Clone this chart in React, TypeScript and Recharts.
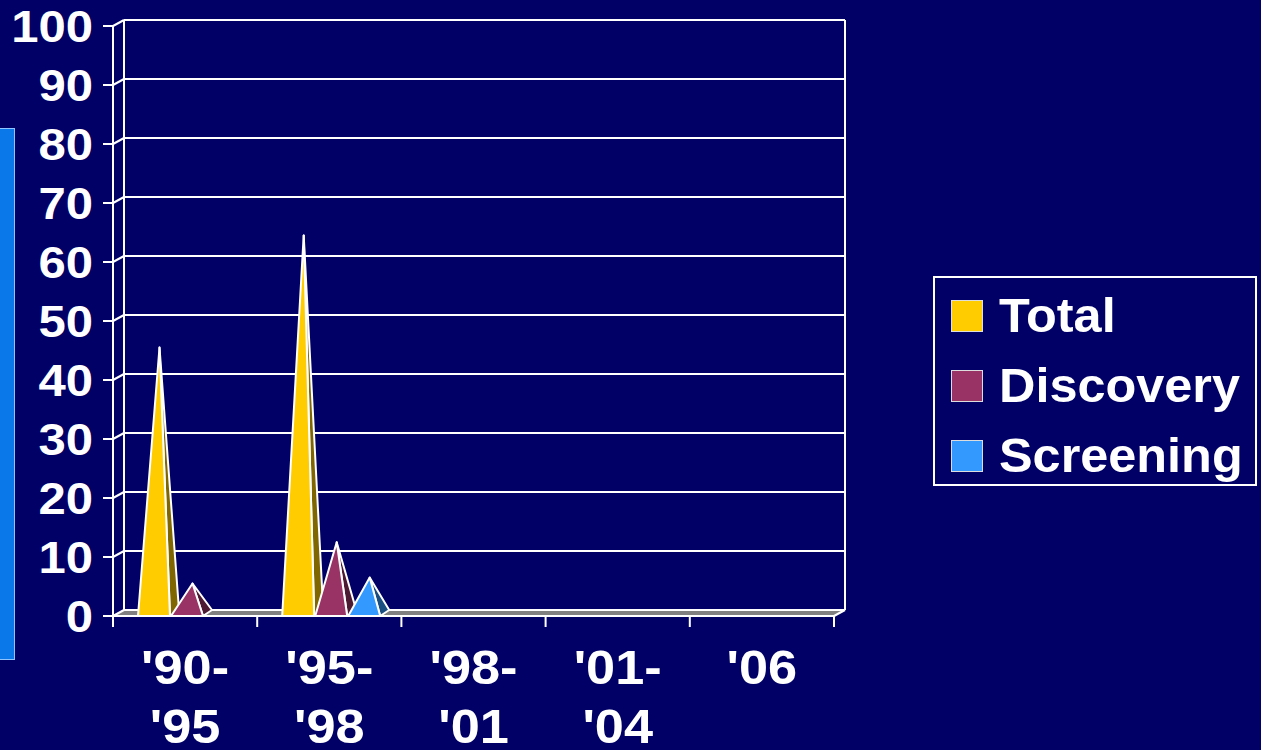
import { BarChart, Bar, XAxis, YAxis, CartesianGrid } from 'recharts';

// Periods and counts per period
const periods = ["'90-'95", "'95-'98", "'98-'01", "'01-'04", "'06"];
const totalCounts = [45, 64, 0, 0, 0];
const discoveryCounts = [5, 12, 0, 0, 0];
const screeningCounts = [0, 6, 0, 0, 0];
const yTicks = [0, 10, 20, 30, 40, 50, 60, 70, 80, 90, 100];

const seriesList = [
  { key: 'total', name: 'Total', fill: '#FFCC00', side: '#7F6600' },
  { key: 'discovery', name: 'Discovery', fill: '#993366', side: '#4D1A33' },
  { key: 'screening', name: 'Screening', fill: '#3399FF', side: '#1A4D80' },
];

const data = periods.map((period, i) => ({
  period,
  total: totalCounts[i],
  discovery: discoveryCounts[i],
  screening: screeningCounts[i],
}));

const W = 1261;
const H = 750;
const BG = '#000066';
const FONT = '"Liberation Sans", Arial, Helvetica, sans-serif';
const STRETCH = 1.09; // axis labels are a bit wider than plain Arial
const LEGEND_STRETCH = 1.05;

// back wall of the 3D box
const PLOT_LEFT = 124;
const PLOT_TOP = 20;
const PLOT_RIGHT = 845;
const PLOT_BOTTOM = 610;
// depth offset of the front plane
const DX = 11;
const DY = 6;
const BAND = (PLOT_RIGHT - PLOT_LEFT) / periods.length;
const STEP = (PLOT_BOTTOM - PLOT_TOP) / (yTicks.length - 1);

const Pyramid = (props: any) => {
  const { x, y, width, height, fill, side } = props;
  if (!height || height < 0.5) return null;
  const fl = x - DX + 2;
  const fr = x + width - DX + 2;
  const baseY = y + height + DY;
  const ax = x + width / 2 - DX / 2 + 2;
  const ay = y + DY / 2;
  return (
    <g stroke="#fff" strokeWidth={2} strokeLinejoin="round">
      <path d={`M${fr},${baseY} L${x + width},${y + height} L${ax},${ay} Z`} fill={side} />
      <path d={`M${fl},${baseY} L${fr},${baseY} L${ax},${ay} Z`} fill={fill} />
    </g>
  );
};

const GridLine = (props: any) => {
  const { x1, x2, y1 } = props;
  if (Math.abs(y1 - PLOT_BOTTOM) < 0.5) {
    const fy = PLOT_BOTTOM + DY;
    return (
      <g>
        <polygon
          points={`${x1 - DX},${fy} ${x2 - DX},${fy} ${x2},${y1} ${x1},${y1}`}
          fill="#808080"
        />
        <line x1={x1} x2={x2} y1={y1} y2={y1} stroke="#fff" strokeWidth={2} />
        <line x1={x1 - DX} x2={x2 - DX} y1={fy} y2={fy} stroke="#fff" strokeWidth={2} />
        <line x1={x2 - DX} x2={x2} y1={fy} y2={y1} stroke="#fff" strokeWidth={2} />
      </g>
    );
  }
  return <line x1={x1} x2={x2} y1={y1} y2={y1} stroke="#fff" strokeWidth={2} />;
};

const YTick = (props: any) => {
  const { y, payload } = props;
  const fx = PLOT_LEFT - DX;
  const fy = y + DY;
  return (
    <g stroke="#fff" strokeWidth={2}>
      <line x1={fx - 10} x2={fx} y1={fy} y2={fy} />
      <line x1={fx} x2={PLOT_LEFT} y1={fy} y2={y} />
      {payload.value > 0 && <line x1={fx} x2={fx} y1={fy} y2={fy + STEP} />}
      <text
        transform={`translate(93,${fy}) scale(${STRETCH},1)`}
        dy="0.36em"
        textAnchor="end"
        fill="#fff"
        stroke="none"
        fontFamily={FONT}
        fontWeight="bold"
        fontSize={45}
      >
        {payload.value}
      </text>
    </g>
  );
};

const XTick = (props: any) => {
  const { x, payload, index } = props;
  const left = x - BAND / 2 - DX;
  const right = x + BAND / 2 - DX;
  const fy = PLOT_BOTTOM + DY;
  const lines: string[] = String(payload.value).match(/'\d+-?/g) || [];
  return (
    <g>
      <line x1={left} x2={left} y1={fy} y2={fy + 11} stroke="#fff" strokeWidth={2} />
      {index === periods.length - 1 && (
        <line x1={right} x2={right} y1={fy} y2={fy + 11} stroke="#fff" strokeWidth={2} />
      )}
      {lines.map((line, i) => (
        <text
          key={i}
          transform={`translate(${x - DX},${684 + i * 59}) scale(${STRETCH},1)`}
          textAnchor="middle"
          fill="#fff"
          fontFamily={FONT}
          fontWeight="bold"
          fontSize={48}
        >
          {line}
        </text>
      ))}
    </g>
  );
};

const LegendBox = () => (
  <div
    style={{
      position: 'absolute',
      left: 933,
      top: 276,
      width: 324,
      height: 210,
      boxSizing: 'border-box',
      border: '2px solid #fff',
      fontFamily: FONT,
      fontWeight: 'bold',
      fontSize: 48,
      color: '#fff',
    }}
  >
    {seriesList.map((s, i) => (
      <div key={s.key}>
        <div
          style={{
            position: 'absolute',
            left: 16,
            top: 22 + i * 70,
            width: 30,
            height: 30,
            background: s.fill,
            border: '1px solid #ddd',
          }}
        />
        <div
          style={{
            position: 'absolute',
            left: 64,
            top: 14 + i * 70,
            lineHeight: '48px',
            whiteSpace: 'nowrap',
            transform: `scaleX(${LEGEND_STRETCH})`,
            transformOrigin: 'left center',
          }}
        >
          {s.name}
        </div>
      </div>
    ))}
  </div>
);

export default function App() {
  return (
    <div
      style={{
        position: 'absolute',
        left: 0,
        top: 0,
        width: W,
        height: H,
        background: BG,
        overflow: 'hidden',
      }}
    >
      <div
        style={{
          position: 'absolute',
          left: 0,
          top: 128,
          width: 14,
          height: 530,
          background: '#0A78E8',
          border: '1px solid #8FC4FF',
          borderLeft: 'none',
        }}
      />
      <BarChart
        width={W}
        height={H}
        data={data}
        margin={{ top: PLOT_TOP, right: W - PLOT_RIGHT, bottom: 0, left: 0 }}
        barSize={32}
        barGap={1}
      >
        <CartesianGrid
          stroke="#fff"
          strokeWidth={2}
          horizontal={GridLine}
          verticalPoints={[PLOT_LEFT, PLOT_RIGHT]}
        />
        <XAxis
          dataKey="period"
          height={H - PLOT_BOTTOM}
          axisLine={false}
          tickLine={false}
          tick={XTick}
          interval={0}
        />
        <YAxis
          width={PLOT_LEFT}
          domain={[0, 100]}
          ticks={yTicks}
          axisLine={false}
          tickLine={false}
          tick={YTick}
          interval={0}
        />
        {seriesList.map((s) => (
          <Bar
            key={s.key}
            dataKey={s.key}
            name={s.name}
            fill={s.fill}
            isAnimationActive={false}
            shape={(p: any) => <Pyramid {...p} side={s.side} />}
          />
        ))}
      </BarChart>
      <LegendBox />
    </div>
  );
}
